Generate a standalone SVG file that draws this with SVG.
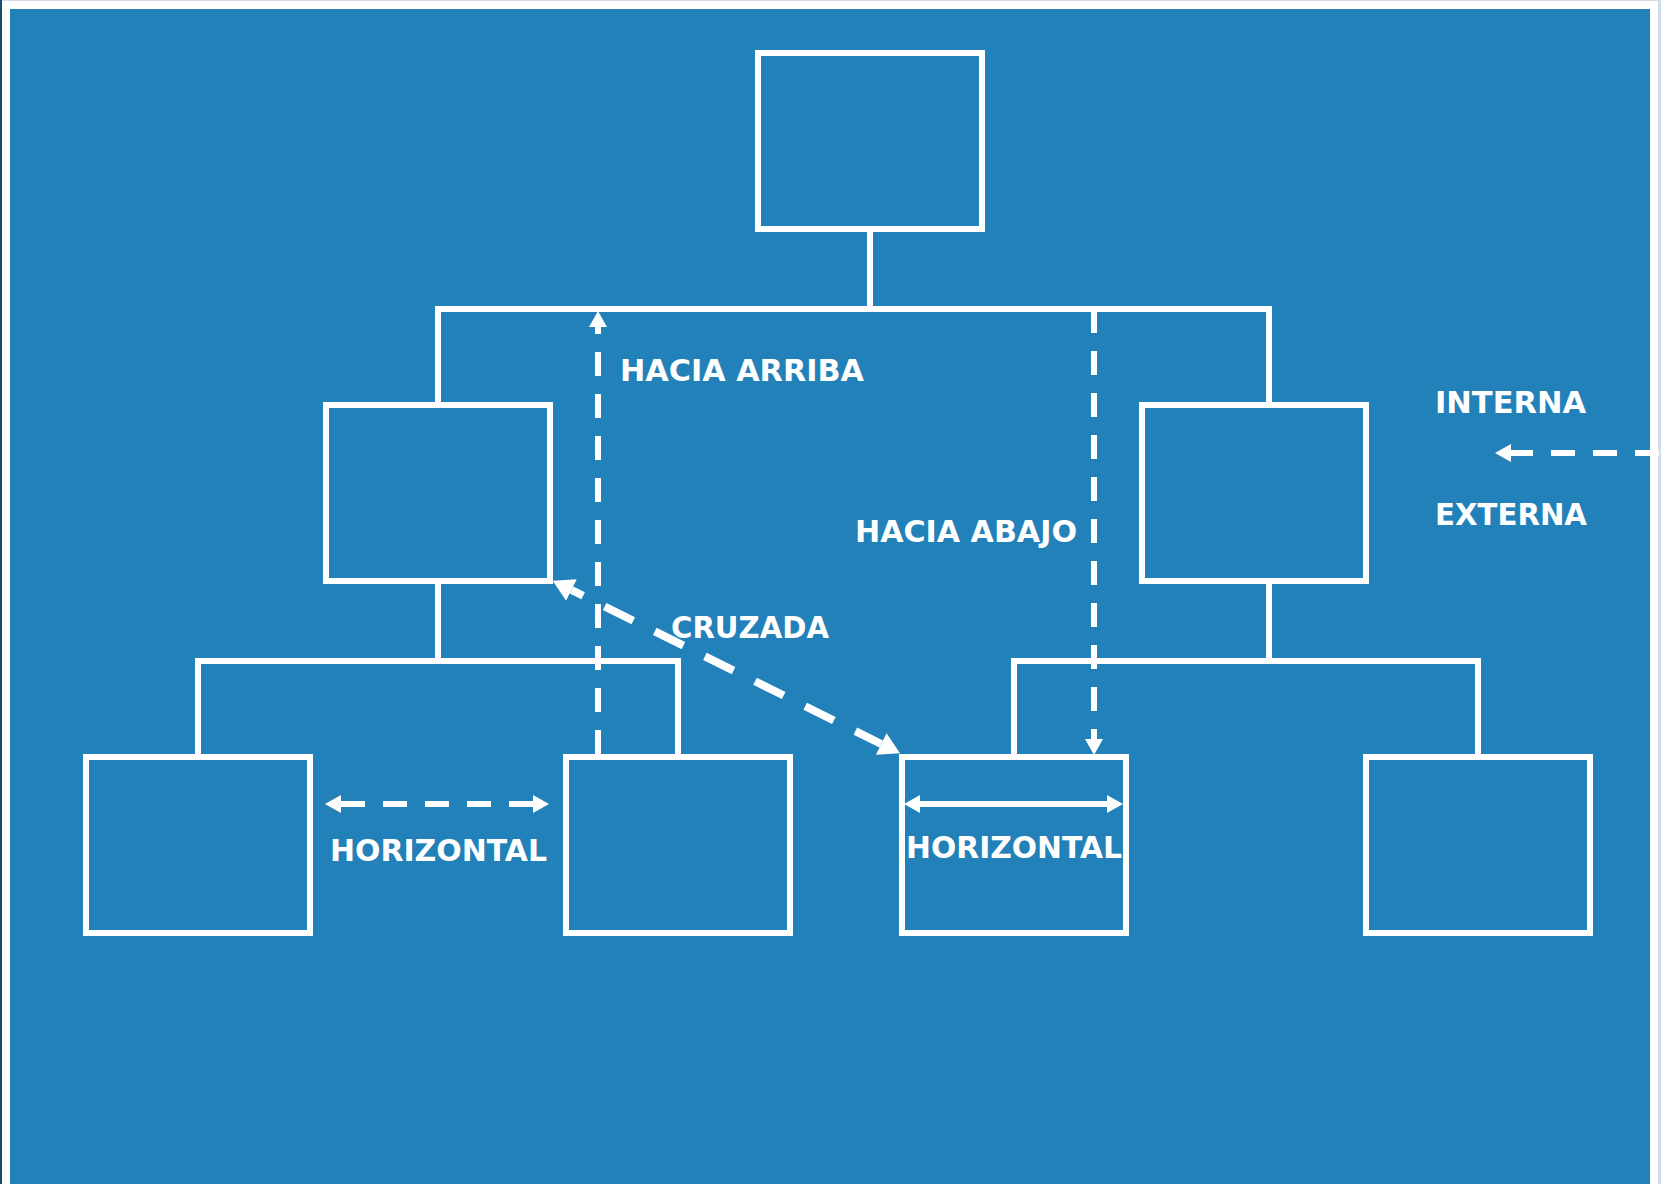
<svg xmlns="http://www.w3.org/2000/svg" width="1661" height="1184" viewBox="0 0 1661 1184">
  <style>
    .box { fill: none; stroke: #ffffff; stroke-width: 6; }
    .line { fill: none; stroke: #ffffff; stroke-width: 6; stroke-linecap: butt; }
    .dash { fill: none; stroke: #ffffff; stroke-width: 6; stroke-dasharray: 24 18; }
    .dashw { fill: none; stroke: #ffffff; stroke-width: 8; stroke-dasharray: 32 24; stroke-dashoffset: 19; }
    .lbl { fill: #ffffff; font-family: "DejaVu Sans", Verdana, sans-serif; font-weight: bold; font-size: 31px; }
  </style>
  <defs>
    <marker id="ah" markerUnits="userSpaceOnUse" markerWidth="16" markerHeight="18" refX="0" refY="9" orient="auto-start-reverse">
      <path d="M0,0 L16,9 L0,18 Z" fill="#ffffff"/>
    </marker>
    <marker id="ahw" markerUnits="userSpaceOnUse" markerWidth="21" markerHeight="24" refX="0" refY="12" orient="auto-start-reverse">
      <path d="M0,0 L21,12 L0,24 Z" fill="#ffffff"/>
    </marker>
  </defs>

  <!-- page background and frame -->
  <rect x="0" y="0" width="1661" height="1184" fill="#ffffff"/>
  <rect x="0" y="0" width="1661" height="1" fill="#d0dce9"/>
  <rect x="0" y="0" width="2" height="1184" fill="#174c6e"/>
  <rect x="1658" y="0" width="3" height="1184" fill="#d0dce9"/>
  <rect x="10" y="9" width="1640" height="1175" fill="#2281b8"/>

  <!-- nodes -->
  <g id="node-top"><rect class="box" x="758" y="53" width="224" height="176"/></g>
  <g id="node-mid-left"><rect class="box" x="326" y="405" width="224" height="176"/></g>
  <g id="node-mid-right"><rect class="box" x="1142" y="405" width="224" height="176"/></g>
  <g id="node-bottom-1"><rect class="box" x="86" y="757" width="224" height="176"/></g>
  <g id="node-bottom-2"><rect class="box" x="566" y="757" width="224" height="176"/></g>
  <g id="node-bottom-3"><rect class="box" x="902" y="757" width="224" height="176"/></g>
  <g id="node-bottom-4"><rect class="box" x="1366" y="757" width="224" height="176"/></g>

  <!-- connectors -->
  <g id="connectors">
    <!-- hierarchy lines -->
    <path class="line" d="M870,232 V309"/>
    <path class="line" d="M438,405 V309 H1269 V405"/>
    <path class="line" d="M438,584 V661"/>
    <path class="line" d="M198,757 V661 H678 V757"/>
    <path class="line" d="M1269,584 V661"/>
    <path class="line" d="M1014,757 V661 H1478 V757"/>

    <!-- HACIA ARRIBA -->
    <path class="dash" d="M598,754 V327" marker-end="url(#ah)"/>
    <!-- HACIA ABAJO -->
    <path class="dash" d="M1094,309 V739" marker-end="url(#ah)"/>
    <!-- INTERNA / EXTERNA -->
    <path class="dash" d="M1659,453 H1511" marker-end="url(#ah)"/>
    <!-- HORIZONTAL (between boxes) -->
    <path class="dash" d="M341,804 H533" marker-start="url(#ah)" marker-end="url(#ah)"/>
    <!-- HORIZONTAL (inside box) -->
    <path class="line" d="M920,804 H1107" marker-start="url(#ah)" marker-end="url(#ah)"/>
    <!-- CRUZADA -->
    <path class="dashw" d="M571.5,590 L881.2,744" marker-start="url(#ahw)" marker-end="url(#ahw)"/>
  </g>

  <!-- labels -->
  <g id="labels">
    <text class="lbl" x="620" y="381" textLength="244" lengthAdjust="spacingAndGlyphs">HACIA ARRIBA</text>
    <text class="lbl" x="855" y="542" textLength="222" lengthAdjust="spacingAndGlyphs">HACIA ABAJO</text>
    <text class="lbl" x="671" y="638" textLength="158" lengthAdjust="spacingAndGlyphs">CRUZADA</text>
    <text class="lbl" x="1435" y="413" textLength="151" lengthAdjust="spacingAndGlyphs">INTERNA</text>
    <text class="lbl" x="1435" y="525" textLength="152" lengthAdjust="spacingAndGlyphs">EXTERNA</text>
    <text class="lbl" x="330" y="861" textLength="217" lengthAdjust="spacingAndGlyphs">HORIZONTAL</text>
    <text class="lbl" x="906" y="858" textLength="216" lengthAdjust="spacingAndGlyphs">HORIZONTAL</text>
  </g>
</svg>
